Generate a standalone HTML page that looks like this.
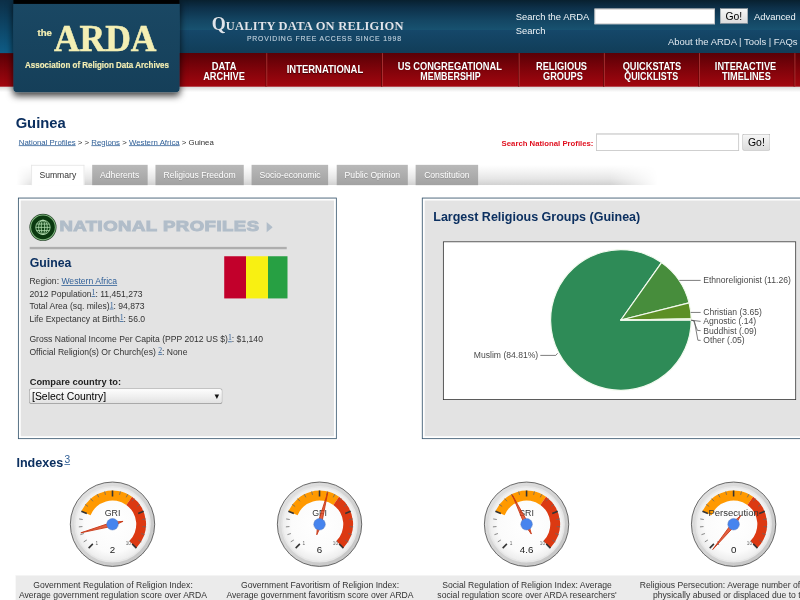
<!DOCTYPE html>
<html lang="en"><head><meta charset="utf-8"><title>Guinea | National Profiles | The ARDA</title>
<style>
html,body{margin:0;padding:0;background:#fff;}
body{width:800px;height:600px;overflow:hidden;position:relative;font-family:"Liberation Sans",Arial,sans-serif;}
#p{position:absolute;left:0;top:0;width:1024px;height:768px;transform:scale(.78125);transform-origin:0 0;overflow:hidden;font-size:11px;color:#333;background:#fff;}
.t{position:absolute;white-space:nowrap;line-height:1;transform-origin:0 50%;}
.a{position:absolute;}
a{color:#2f5f97;text-decoration:underline;}
sup.s{font-size:10px;line-height:0;vertical-align:2.2px;font-family:"Liberation Serif",serif;}
.hdr{left:0;top:0;width:1024px;height:110.5px;background:linear-gradient(#08202f 0,#0d3049 10px,#144663 26px,#185270 38px,#15486a 38px,#113d58 68px,#5a0006 68px,#7e030a 88px,#a2060f 110.5px);}
.hl{left:0;top:0;width:17px;height:68px;background:linear-gradient(#0c2f47,#0e5c86);}
.navsh{left:0;top:110.5px;width:1024px;height:7px;background:linear-gradient(rgba(0,0,0,.14),rgba(0,0,0,0));}
.logo{left:16.6px;top:0;width:213.8px;height:118px;background:linear-gradient(#1a4864,#153f59);border-radius:0 0 5px 5px;box-shadow:0 4px 9px rgba(0,0,0,.75);}
.logo i{position:absolute;left:0;top:0;width:100%;height:4.5px;background:#000;}
.dv{top:68px;width:1px;height:42.5px;background:#b23a3a;box-shadow:-1px 0 0 #5c0707;}
.n{position:absolute;white-space:nowrap;line-height:1;color:#fff;font-weight:700;transform-origin:0 50%;text-shadow:0 1px 1px rgba(0,0,0,.55);}
input.tx{position:absolute;box-sizing:border-box;border:1px solid #c2c2c2;border-top-color:#a9a9a9;background:#fff;margin:0;padding:1px;font-size:13.33px;}
.btn{position:absolute;box-sizing:border-box;border:1px solid #b4b4b4;border-bottom-color:#9c9c9c;border-radius:2.5px;background:linear-gradient(#f7f7f7,#dcdcdc);font-size:13.33px;color:#000;text-align:center;line-height:20px;font-family:"Liberation Sans",Arial,sans-serif;padding:0;margin:0;}
.tabbar{left:20.5px;top:211px;width:821px;height:25.6px;background:linear-gradient(#fff 0,#f5f5f5 30%,#e6e6e6 68%,#d1d1d1 100%);-webkit-mask-image:linear-gradient(to right,rgba(0,0,0,0) 0,#000 3.5%,#000 92.5%,rgba(0,0,0,0) 100%);mask-image:linear-gradient(to right,rgba(0,0,0,0) 0,#000 3.5%,#000 92.5%,rgba(0,0,0,0) 100%);}
.tab{position:absolute;top:211px;height:25.5px;box-sizing:border-box;background:linear-gradient(#b9b9b9,#a2a2a2);color:#fff;font-size:11px;line-height:27.6px;text-align:center;text-shadow:0 1px 0 rgba(0,0,0,.15);white-space:nowrap;}
.tab.on{background:#fff;color:#333;text-shadow:none;border:1px solid #e3e3e3;border-bottom:none;line-height:25.6px;}
.panel{position:absolute;box-sizing:border-box;border:1.28px solid #36566f;background:#e3e3e3;box-shadow:inset 0 0 0 2.56px #fff;}
.cap{position:absolute;white-space:nowrap;text-align:center;font-size:11px;line-height:13.6px;color:#333;}
</style></head>
<body><div id="p">
<div class="a hdr"></div><div class="a hl"></div><div class="a navsh"></div>
<div class="a dv" style="left:341.0px"></div>
<div class="a dv" style="left:488.8px"></div>
<div class="a dv" style="left:664.1px"></div>
<div class="a dv" style="left:772.6px"></div>
<div class="a dv" style="left:894.5px"></div>
<div class="a dv" style="left:1017.2px"></div>
<span class="n" style="left:271.36px;top:77.57px;font-size:13px;transform:scaleX(0.9251)">DATA</span>
<span class="n" style="left:260.48px;top:91.40px;font-size:13px;transform:scaleX(0.9134)">ARCHIVE</span>
<span class="n" style="left:366.72px;top:83.20px;font-size:13px;transform:scaleX(0.9308)">INTERNATIONAL</span>
<span class="n" style="left:508.93px;top:77.57px;font-size:13px;transform:scaleX(0.9166)">US CONGREGATIONAL</span>
<span class="n" style="left:537.60px;top:91.40px;font-size:13px;transform:scaleX(0.8773)">MEMBERSHIP</span>
<span class="n" style="left:685.76px;top:77.57px;font-size:13px;transform:scaleX(0.9147)">RELIGIOUS</span>
<span class="n" style="left:694.72px;top:91.40px;font-size:13px;transform:scaleX(0.9065)">GROUPS</span>
<span class="n" style="left:796.67px;top:77.57px;font-size:13px;transform:scaleX(0.9084)">QUICKSTATS</span>
<span class="n" style="left:799.36px;top:91.40px;font-size:13px;transform:scaleX(0.8764)">QUICKLISTS</span>
<span class="n" style="left:915.33px;top:77.57px;font-size:13px;transform:scaleX(0.9053)">INTERACTIVE</span>
<span class="n" style="left:924.29px;top:91.40px;font-size:13px;transform:scaleX(0.9046)">TIMELINES</span>
<div class="a logo"><i></i></div>
<span class="t" style="left:48.38px;top:35.54px;font-size:12px;color:#f4efb4;font-weight:700;transform:scaleX(1.0239);-webkit-text-stroke:.3px #f4efb4;">the</span>
<span class="t" style="left:69.38px;top:25.34px;font-size:48px;color:#f4efb4;font-weight:700;font-family:'Liberation Serif','Times New Roman',serif;transform:scaleX(0.9471);-webkit-text-stroke:.7px #f4efb4;">ARDA</span>
<span class="t" style="left:32.38px;top:77.60px;font-size:11px;color:#f4efb4;font-weight:700;transform:scaleX(0.9297);-webkit-text-stroke:.2px #f4efb4;">Association of Religion Data Archives</span>
<span class="t" id="qual" style="left:271.9px;top:19.3px;font-size:16px;line-height:23px;font-weight:700;font-family:'Liberation Serif','Times New Roman',serif;color:#dfe5ec;letter-spacing:.27px;text-shadow:0 1px 1px rgba(0,0,0,.4)"><span style="font-size:23px;margin-left:-1px">Q</span>UALITY DATA ON RELIGION</span>
<span class="t" style="left:315.84px;top:44.78px;font-size:10px;color:#bccddA;letter-spacing:1.2px;transform:scaleX(0.8785);-webkit-text-stroke:.2px #bccdda;">PROVIDING FREE ACCESS SINCE 1998</span>
<span class="t" style="left:660.10px;top:16.21px;font-size:12px;color:#f2f6f9;">Search the ARDA</span>
<input class="tx" type="text" style="left:761.0px;top:10.5px;width:154.1px;height:20.9px">
<div class="btn" style="left:920.8px;top:10.2px;width:36.9px;height:21.2px;line-height:21.8px">Go!</div>
<span class="t" style="left:965.25px;top:16.34px;font-size:12px;color:#f2f6f9;">Advanced</span>
<span class="t" style="left:660.10px;top:34.00px;font-size:12px;color:#f2f6f9;">Search</span>
<span class="t" style="left:855.04px;top:46.67px;font-size:12px;color:#e1e9ef;transform:scaleX(1.0109);">About the ARDA | Tools | FAQs</span>
<span class="t" style="left:20.48px;top:147.76px;font-size:19px;color:#0c3060;font-weight:700;transform:scaleX(0.9957);">Guinea</span>
<span class="t" style="left:24.32px;top:176.62px;font-size:10px;color:#333;transform:scaleX(1.0008);"><a>National Profiles</a> &gt; &gt; <a>Regions</a> &gt; <a>Western Africa</a> &gt; Guinea</span>
<span class="t" style="left:641.60px;top:178.74px;font-size:10px;color:#e0101f;font-weight:700;transform:scaleX(0.9937);">Search National Profiles:</span>
<input class="tx" type="text" style="left:763.0px;top:171.4px;width:183.4px;height:21.6px">
<div class="btn" style="left:950.1px;top:171.0px;width:36.2px;height:22.3px;line-height:22.7px">Go!</div>
<div class="a tabbar"></div>
<div class="tab on" style="left:40.0px;width:68.0px">Summary</div>
<div class="tab" style="left:117.6px;width:71.2px">Adherents</div>
<div class="tab" style="left:198.8px;width:113.2px">Religious Freedom</div>
<div class="tab" style="left:322.4px;width:97.9px">Socio-economic</div>
<div class="tab" style="left:431.2px;width:90.8px">Public Opinion</div>
<div class="tab" style="left:532.0px;width:79.9px">Constitution</div>
<div class="panel" style="left:23.0px;top:253.4px;width:408.3px;height:308.5px"></div>
<svg class="a" style="left:36.53px;top:272.94px" width="36" height="36" viewBox="-18 -18 36 36">
<circle r="17.3" fill="#1b3a1e"/><circle r="16.5" fill="#82b880"/><circle r="15.1" fill="#0b3a10"/>
<circle r="9.2" fill="#0e4214"/>
<g fill="none" stroke="#b4dfb2" stroke-width="1.05"><circle r="9.2"/><ellipse rx="2.2" ry="9.2"/><ellipse rx="5.6" ry="9.2"/><path d="M-9.2 0H9.2M-8.2-4.2H8.2M-8.2 4.2H8.2"/></g></svg>
<span class="t" style="left:76.29px;top:280.20px;font-size:19.5px;color:#b1bdc9;font-weight:700;letter-spacing:0.5px;transform:scaleX(1.2181);-webkit-text-stroke:1.3px #b1bdc9;">NATIONAL PROFILES</span>
<svg class="a" style="left:340.7px;top:284.2px" width="8.2" height="13.6" viewBox="0 0 6 10"><path d="M0 0L6 5L0 10Z" fill="#b1bdc9"/></svg>
<div class="a" style="left:37.6px;top:316.35px;width:329.1px;height:2.4px;background:#aeaeae"></div>
<span class="t" style="left:37.63px;top:328.98px;font-size:16px;color:#0c3060;font-weight:700;transform:scaleX(0.9818);">Guinea</span>
<span class="t" style="left:37.63px;top:354.85px;font-size:11px;color:#333;">Region: <a>Western Africa</a></span>
<span class="t" style="left:37.63px;top:370.72px;font-size:11px;color:#333;">2012 Population<sup class="s"><a>1</a></sup>: 11,451,273</span>
<span class="t" style="left:37.63px;top:386.72px;font-size:11px;color:#333;">Total Area (sq. miles)<sup class="s"><a>1</a></sup>: 94,873</span>
<span class="t" style="left:37.63px;top:402.72px;font-size:11px;color:#333;">Life Expectancy at Birth<sup class="s"><a>1</a></sup>: 56.0</span>
<span class="t" style="left:37.63px;top:429.22px;font-size:11px;color:#333;">Gross National Income Per Capita (PPP 2012 US $)<sup class="s"><a>1</a></sup>: $1,140</span>
<span class="t" style="left:37.63px;top:444.70px;font-size:11px;color:#333;">Official Religion(s) Or Church(es) <sup class="s"><a>2</a></sup>: None</span>
<div class="a" style="left:286.8px;top:327.7px;width:81.3px;height:53.9px;background:linear-gradient(to right,#c2002b 0,#c2002b 27.8px,#f8f012 27.8px,#f8f012 55.5px,#27a043 55.5px)"></div>
<span class="t" style="left:37.63px;top:483.41px;font-size:12px;color:#222;font-weight:700;transform:scaleX(0.9903);">Compare country to:</span>
<div class="a" style="left:37.2px;top:497.2px;width:247.8px;height:19.7px;box-sizing:border-box;border:1px solid #a9a9a9;border-bottom-color:#8f8f8f;border-radius:3.5px;background:linear-gradient(#fdfdfd,#f0f0f0 50%,#e2e2e2);"></div>
<span class="t" style="left:41.47px;top:501.10px;font-size:13.33px;color:#000;transform:scaleX(0.9988);">[Select Country]</span>
<span class="t" style="left:272.51px;top:502.51px;font-size:10px;color:#111;">▼</span>
<div class="panel" style="left:540.2px;top:253.4px;width:520px;height:308.5px"></div>
<span class="t" style="left:554.56px;top:269.66px;font-size:16px;color:#0c3060;font-weight:700;">Largest Religious Groups (Guinea)</span>
<div class="a" style="left:567.0px;top:308.5px;width:451.8px;height:203.5px;box-sizing:border-box;border:1.28px solid #2e2e2e;background:#fff"></div>
<svg class="a" style="left:0;top:0;overflow:visible" width="1024" height="768">
<path d="M794.75 409.60L884.74 409.60A89.98 89.98 0 1 1 846.77 336.18Z" fill="#2e8b57" stroke="#f3faef" stroke-width="1.5" stroke-linejoin="round"/>
<path d="M794.75 409.60L846.77 336.18A89.98 89.98 0 0 1 882.01 387.61Z" fill="#478d3c" stroke="#f3faef" stroke-width="1.5" stroke-linejoin="round"/>
<path d="M794.75 409.60L882.01 387.61A89.98 89.98 0 0 1 884.72 408.02Z" fill="#5c8f25" stroke="#f3faef" stroke-width="1.5" stroke-linejoin="round"/>
<path d="M794.75 409.60L884.72 408.02A89.98 89.98 0 0 1 884.73 408.81Z" fill="#7a9a20" stroke="#f3faef" stroke-width="1.5" stroke-linejoin="round"/>
<path d="M794.75 409.60L884.73 408.81A89.98 89.98 0 0 1 884.74 409.32Z" fill="#8aa020" stroke="#f3faef" stroke-width="1.5" stroke-linejoin="round"/>
<path d="M794.75 409.60L884.74 409.32A89.98 89.98 0 0 1 884.74 409.60Z" fill="#9aa520" stroke="#f3faef" stroke-width="1.5" stroke-linejoin="round"/>
<g fill="none" stroke="#5a5a5a" stroke-width="1">
<path d="M869.6 358.9L896.8 358.9"/>
<path d="M884.0 399.9L896.8 399.9"/>
<path d="M884.5 409.9L887.0 410.1L896.8 411.4"/>
<path d="M885.0 410.0L887.8 410.4L892.7 422.9L896.8 423.2"/>
<path d="M885.5 410.1L888.8 410.8L893.3 435.5L896.8 435.7"/>
<path d="M691.6 454.9L711.4 454.9L713.7 452.2"/>
</g>
<text x="900.1" y="362.4" font-size="11" fill="#4a4a4a" text-anchor="start" font-family="Liberation Sans,Arial,sans-serif">Ethnoreligionist (11.26)</text>
<text x="900.1" y="403.3" font-size="11" fill="#4a4a4a" text-anchor="start" font-family="Liberation Sans,Arial,sans-serif">Christian (3.65)</text>
<text x="900.1" y="415.1" font-size="11" fill="#4a4a4a" text-anchor="start" font-family="Liberation Sans,Arial,sans-serif">Agnostic (.14)</text>
<text x="900.1" y="426.9" font-size="11" fill="#4a4a4a" text-anchor="start" font-family="Liberation Sans,Arial,sans-serif">Buddhist (.09)</text>
<text x="900.1" y="439.4" font-size="11" fill="#4a4a4a" text-anchor="start" font-family="Liberation Sans,Arial,sans-serif">Other (.05)</text>
<text x="688.9" y="458.7" font-size="11" fill="#4a4a4a" text-anchor="end" font-family="Liberation Sans,Arial,sans-serif">Muslim (84.81%)</text>
</svg>
<span class="t" style="left:21.12px;top:584.18px;font-size:16.5px;color:#0c3060;font-weight:700;transform:scaleX(0.9748);">Indexes</span>
<span class="t" style="left:82.43px;top:581.76px;font-size:13px;color:#2f5f97;text-decoration:underline;">3</span>
<div class="a" style="left:19.8px;top:735.5px;width:1100px;height:60px;background:#ebebeb;border-top:1px solid #f6f6f6"></div>
<svg class="a" style="left:84.26px;top:611.42px" width="120" height="120" viewBox="-60 -60 120 120">
<defs><radialGradient id="gf0" cx="50%" cy="50%" r="50%"><stop offset="0" stop-color="#ffffff"/><stop offset="0.75" stop-color="#fbfbfb"/><stop offset="1" stop-color="#ececec"/></radialGradient><linearGradient id="gr0" x1="0" y1="0" x2="1" y2="1"><stop offset="0" stop-color="#e4e4e4"/><stop offset="1" stop-color="#c2c2c2"/></linearGradient></defs>
<circle r="54" fill="url(#gr0)" stroke="#444444" stroke-width="1"/>
<circle r="48" fill="url(#gf0)" stroke="#e6e6e6" stroke-width="2"/>
<path d="M-39.73 -16.46A43.0 43.0 0 0 1 24.97 -35.01L17.65 -24.75A30.4 30.4 0 0 0 -28.09 -11.63Z" fill="#ff9900"/>
<path d="M24.97 -35.01A43.0 43.0 0 0 1 30.41 30.41L21.50 21.50A30.4 30.4 0 0 0 17.65 -24.75Z" fill="#dc3912"/>
<path d="M-30.55 30.55L-25.17 25.17" stroke="#333333" stroke-width="2"/>
<path d="M-36.83 22.57L-32.91 20.17" stroke="#666666" stroke-width="1"/>
<path d="M-41.09 13.35L-36.71 11.93" stroke="#666666" stroke-width="1"/>
<path d="M-43.07 3.39L-38.48 3.03" stroke="#666666" stroke-width="1"/>
<path d="M-42.67 -6.76L-38.12 -6.04" stroke="#666666" stroke-width="1"/>
<path d="M-39.91 -16.53L-32.89 -13.62" stroke="#333333" stroke-width="2"/>
<path d="M-34.95 -25.39L-31.23 -22.69" stroke="#666666" stroke-width="1"/>
<path d="M-28.06 -32.85L-25.07 -29.35" stroke="#666666" stroke-width="1"/>
<path d="M-19.61 -38.49L-17.52 -34.39" stroke="#666666" stroke-width="1"/>
<path d="M-10.08 -42.01L-9.01 -37.53" stroke="#666666" stroke-width="1"/>
<path d="M0.00 -43.20L0.00 -35.60" stroke="#333333" stroke-width="2"/>
<path d="M10.08 -42.01L9.01 -37.53" stroke="#666666" stroke-width="1"/>
<path d="M19.61 -38.49L17.52 -34.39" stroke="#666666" stroke-width="1"/>
<path d="M28.06 -32.85L25.07 -29.35" stroke="#666666" stroke-width="1"/>
<path d="M34.95 -25.39L31.23 -22.69" stroke="#666666" stroke-width="1"/>
<path d="M39.91 -16.53L32.89 -13.62" stroke="#333333" stroke-width="2"/>
<path d="M42.67 -6.76L38.12 -6.04" stroke="#666666" stroke-width="1"/>
<path d="M43.07 3.39L38.48 3.03" stroke="#666666" stroke-width="1"/>
<path d="M41.09 13.35L36.71 11.93" stroke="#666666" stroke-width="1"/>
<path d="M36.83 22.57L32.91 20.17" stroke="#666666" stroke-width="1"/>
<path d="M30.55 30.55L25.17 25.17" stroke="#333333" stroke-width="2"/>
<text x="0" y="-10.3" text-anchor="middle" font-size="11.3" fill="#333333" font-family="Liberation Sans,Arial,sans-serif">GRI</text>
<text x="-20" y="26.5" text-anchor="middle" font-size="6" fill="#666" font-family="Liberation Sans,Arial,sans-serif">1</text>
<text x="20.3" y="26.5" text-anchor="middle" font-size="6" fill="#666" font-family="Liberation Sans,Arial,sans-serif">10</text>
<text x="0" y="37.3" text-anchor="middle" font-size="12.5" fill="#1a1a1a" font-family="Liberation Sans,Arial,sans-serif">2</text>
<path d="M0 -42L2.5 0L0 14L-2.5 0Z" fill="#dc3912" fill-opacity="0.8" stroke="#c63310" stroke-width="1" stroke-linejoin="round" transform="rotate(-105.2)"/>
<circle r="7.4" fill="#4684ee" stroke="#5577bb" stroke-width="0.6"/>
</svg>
<svg class="a" style="left:349.22px;top:611.42px" width="120" height="120" viewBox="-60 -60 120 120">
<defs><radialGradient id="gf1" cx="50%" cy="50%" r="50%"><stop offset="0" stop-color="#ffffff"/><stop offset="0.75" stop-color="#fbfbfb"/><stop offset="1" stop-color="#ececec"/></radialGradient><linearGradient id="gr1" x1="0" y1="0" x2="1" y2="1"><stop offset="0" stop-color="#e4e4e4"/><stop offset="1" stop-color="#c2c2c2"/></linearGradient></defs>
<circle r="54" fill="url(#gr1)" stroke="#444444" stroke-width="1"/>
<circle r="48" fill="url(#gf1)" stroke="#e6e6e6" stroke-width="2"/>
<path d="M-39.73 -16.46A43.0 43.0 0 0 1 24.97 -35.01L17.65 -24.75A30.4 30.4 0 0 0 -28.09 -11.63Z" fill="#ff9900"/>
<path d="M24.97 -35.01A43.0 43.0 0 0 1 30.41 30.41L21.50 21.50A30.4 30.4 0 0 0 17.65 -24.75Z" fill="#dc3912"/>
<path d="M-30.55 30.55L-25.17 25.17" stroke="#333333" stroke-width="2"/>
<path d="M-36.83 22.57L-32.91 20.17" stroke="#666666" stroke-width="1"/>
<path d="M-41.09 13.35L-36.71 11.93" stroke="#666666" stroke-width="1"/>
<path d="M-43.07 3.39L-38.48 3.03" stroke="#666666" stroke-width="1"/>
<path d="M-42.67 -6.76L-38.12 -6.04" stroke="#666666" stroke-width="1"/>
<path d="M-39.91 -16.53L-32.89 -13.62" stroke="#333333" stroke-width="2"/>
<path d="M-34.95 -25.39L-31.23 -22.69" stroke="#666666" stroke-width="1"/>
<path d="M-28.06 -32.85L-25.07 -29.35" stroke="#666666" stroke-width="1"/>
<path d="M-19.61 -38.49L-17.52 -34.39" stroke="#666666" stroke-width="1"/>
<path d="M-10.08 -42.01L-9.01 -37.53" stroke="#666666" stroke-width="1"/>
<path d="M0.00 -43.20L0.00 -35.60" stroke="#333333" stroke-width="2"/>
<path d="M10.08 -42.01L9.01 -37.53" stroke="#666666" stroke-width="1"/>
<path d="M19.61 -38.49L17.52 -34.39" stroke="#666666" stroke-width="1"/>
<path d="M28.06 -32.85L25.07 -29.35" stroke="#666666" stroke-width="1"/>
<path d="M34.95 -25.39L31.23 -22.69" stroke="#666666" stroke-width="1"/>
<path d="M39.91 -16.53L32.89 -13.62" stroke="#333333" stroke-width="2"/>
<path d="M42.67 -6.76L38.12 -6.04" stroke="#666666" stroke-width="1"/>
<path d="M43.07 3.39L38.48 3.03" stroke="#666666" stroke-width="1"/>
<path d="M41.09 13.35L36.71 11.93" stroke="#666666" stroke-width="1"/>
<path d="M36.83 22.57L32.91 20.17" stroke="#666666" stroke-width="1"/>
<path d="M30.55 30.55L25.17 25.17" stroke="#333333" stroke-width="2"/>
<text x="0" y="-10.3" text-anchor="middle" font-size="11.3" fill="#333333" font-family="Liberation Sans,Arial,sans-serif">GFI</text>
<text x="-20" y="26.5" text-anchor="middle" font-size="6" fill="#666" font-family="Liberation Sans,Arial,sans-serif">1</text>
<text x="20.3" y="26.5" text-anchor="middle" font-size="6" fill="#666" font-family="Liberation Sans,Arial,sans-serif">10</text>
<text x="0" y="37.3" text-anchor="middle" font-size="12.5" fill="#1a1a1a" font-family="Liberation Sans,Arial,sans-serif">6</text>
<path d="M0 -42L2.5 0L0 14L-2.5 0Z" fill="#dc3912" fill-opacity="0.8" stroke="#c63310" stroke-width="1" stroke-linejoin="round" transform="rotate(14.5)"/>
<circle r="7.4" fill="#4684ee" stroke="#5577bb" stroke-width="0.6"/>
</svg>
<svg class="a" style="left:614.18px;top:611.42px" width="120" height="120" viewBox="-60 -60 120 120">
<defs><radialGradient id="gf2" cx="50%" cy="50%" r="50%"><stop offset="0" stop-color="#ffffff"/><stop offset="0.75" stop-color="#fbfbfb"/><stop offset="1" stop-color="#ececec"/></radialGradient><linearGradient id="gr2" x1="0" y1="0" x2="1" y2="1"><stop offset="0" stop-color="#e4e4e4"/><stop offset="1" stop-color="#c2c2c2"/></linearGradient></defs>
<circle r="54" fill="url(#gr2)" stroke="#444444" stroke-width="1"/>
<circle r="48" fill="url(#gf2)" stroke="#e6e6e6" stroke-width="2"/>
<path d="M-39.73 -16.46A43.0 43.0 0 0 1 24.97 -35.01L17.65 -24.75A30.4 30.4 0 0 0 -28.09 -11.63Z" fill="#ff9900"/>
<path d="M24.97 -35.01A43.0 43.0 0 0 1 30.41 30.41L21.50 21.50A30.4 30.4 0 0 0 17.65 -24.75Z" fill="#dc3912"/>
<path d="M-30.55 30.55L-25.17 25.17" stroke="#333333" stroke-width="2"/>
<path d="M-36.83 22.57L-32.91 20.17" stroke="#666666" stroke-width="1"/>
<path d="M-41.09 13.35L-36.71 11.93" stroke="#666666" stroke-width="1"/>
<path d="M-43.07 3.39L-38.48 3.03" stroke="#666666" stroke-width="1"/>
<path d="M-42.67 -6.76L-38.12 -6.04" stroke="#666666" stroke-width="1"/>
<path d="M-39.91 -16.53L-32.89 -13.62" stroke="#333333" stroke-width="2"/>
<path d="M-34.95 -25.39L-31.23 -22.69" stroke="#666666" stroke-width="1"/>
<path d="M-28.06 -32.85L-25.07 -29.35" stroke="#666666" stroke-width="1"/>
<path d="M-19.61 -38.49L-17.52 -34.39" stroke="#666666" stroke-width="1"/>
<path d="M-10.08 -42.01L-9.01 -37.53" stroke="#666666" stroke-width="1"/>
<path d="M0.00 -43.20L0.00 -35.60" stroke="#333333" stroke-width="2"/>
<path d="M10.08 -42.01L9.01 -37.53" stroke="#666666" stroke-width="1"/>
<path d="M19.61 -38.49L17.52 -34.39" stroke="#666666" stroke-width="1"/>
<path d="M28.06 -32.85L25.07 -29.35" stroke="#666666" stroke-width="1"/>
<path d="M34.95 -25.39L31.23 -22.69" stroke="#666666" stroke-width="1"/>
<path d="M39.91 -16.53L32.89 -13.62" stroke="#333333" stroke-width="2"/>
<path d="M42.67 -6.76L38.12 -6.04" stroke="#666666" stroke-width="1"/>
<path d="M43.07 3.39L38.48 3.03" stroke="#666666" stroke-width="1"/>
<path d="M41.09 13.35L36.71 11.93" stroke="#666666" stroke-width="1"/>
<path d="M36.83 22.57L32.91 20.17" stroke="#666666" stroke-width="1"/>
<path d="M30.55 30.55L25.17 25.17" stroke="#333333" stroke-width="2"/>
<text x="0" y="-10.3" text-anchor="middle" font-size="11.3" fill="#333333" font-family="Liberation Sans,Arial,sans-serif">SRI</text>
<text x="-20" y="26.5" text-anchor="middle" font-size="6" fill="#666" font-family="Liberation Sans,Arial,sans-serif">1</text>
<text x="20.3" y="26.5" text-anchor="middle" font-size="6" fill="#666" font-family="Liberation Sans,Arial,sans-serif">10</text>
<text x="0" y="37.3" text-anchor="middle" font-size="12.5" fill="#1a1a1a" font-family="Liberation Sans,Arial,sans-serif">4.6</text>
<path d="M0 -42L2.5 0L0 14L-2.5 0Z" fill="#dc3912" fill-opacity="0.8" stroke="#c63310" stroke-width="1" stroke-linejoin="round" transform="rotate(-26.0)"/>
<circle r="7.4" fill="#4684ee" stroke="#5577bb" stroke-width="0.6"/>
</svg>
<svg class="a" style="left:879.14px;top:611.42px" width="120" height="120" viewBox="-60 -60 120 120">
<defs><radialGradient id="gf3" cx="50%" cy="50%" r="50%"><stop offset="0" stop-color="#ffffff"/><stop offset="0.75" stop-color="#fbfbfb"/><stop offset="1" stop-color="#ececec"/></radialGradient><linearGradient id="gr3" x1="0" y1="0" x2="1" y2="1"><stop offset="0" stop-color="#e4e4e4"/><stop offset="1" stop-color="#c2c2c2"/></linearGradient></defs>
<circle r="54" fill="url(#gr3)" stroke="#444444" stroke-width="1"/>
<circle r="48" fill="url(#gf3)" stroke="#e6e6e6" stroke-width="2"/>
<path d="M-39.73 -16.46A43.0 43.0 0 0 1 24.97 -35.01L17.65 -24.75A30.4 30.4 0 0 0 -28.09 -11.63Z" fill="#ff9900"/>
<path d="M24.97 -35.01A43.0 43.0 0 0 1 30.41 30.41L21.50 21.50A30.4 30.4 0 0 0 17.65 -24.75Z" fill="#dc3912"/>
<path d="M-30.55 30.55L-25.17 25.17" stroke="#333333" stroke-width="2"/>
<path d="M-36.83 22.57L-32.91 20.17" stroke="#666666" stroke-width="1"/>
<path d="M-41.09 13.35L-36.71 11.93" stroke="#666666" stroke-width="1"/>
<path d="M-43.07 3.39L-38.48 3.03" stroke="#666666" stroke-width="1"/>
<path d="M-42.67 -6.76L-38.12 -6.04" stroke="#666666" stroke-width="1"/>
<path d="M-39.91 -16.53L-32.89 -13.62" stroke="#333333" stroke-width="2"/>
<path d="M-34.95 -25.39L-31.23 -22.69" stroke="#666666" stroke-width="1"/>
<path d="M-28.06 -32.85L-25.07 -29.35" stroke="#666666" stroke-width="1"/>
<path d="M-19.61 -38.49L-17.52 -34.39" stroke="#666666" stroke-width="1"/>
<path d="M-10.08 -42.01L-9.01 -37.53" stroke="#666666" stroke-width="1"/>
<path d="M0.00 -43.20L0.00 -35.60" stroke="#333333" stroke-width="2"/>
<path d="M10.08 -42.01L9.01 -37.53" stroke="#666666" stroke-width="1"/>
<path d="M19.61 -38.49L17.52 -34.39" stroke="#666666" stroke-width="1"/>
<path d="M28.06 -32.85L25.07 -29.35" stroke="#666666" stroke-width="1"/>
<path d="M34.95 -25.39L31.23 -22.69" stroke="#666666" stroke-width="1"/>
<path d="M39.91 -16.53L32.89 -13.62" stroke="#333333" stroke-width="2"/>
<path d="M42.67 -6.76L38.12 -6.04" stroke="#666666" stroke-width="1"/>
<path d="M43.07 3.39L38.48 3.03" stroke="#666666" stroke-width="1"/>
<path d="M41.09 13.35L36.71 11.93" stroke="#666666" stroke-width="1"/>
<path d="M36.83 22.57L32.91 20.17" stroke="#666666" stroke-width="1"/>
<path d="M30.55 30.55L25.17 25.17" stroke="#333333" stroke-width="2"/>
<text x="0" y="-10.3" text-anchor="middle" font-size="12.2" fill="#333333" font-family="Liberation Sans,Arial,sans-serif">Persecution</text>
<text x="-20" y="26.5" text-anchor="middle" font-size="6" fill="#666" font-family="Liberation Sans,Arial,sans-serif">1</text>
<text x="20.3" y="26.5" text-anchor="middle" font-size="6" fill="#666" font-family="Liberation Sans,Arial,sans-serif">10</text>
<text x="0" y="37.3" text-anchor="middle" font-size="12.5" fill="#1a1a1a" font-family="Liberation Sans,Arial,sans-serif">0</text>
<path d="M0 -42L2.5 0L0 14L-2.5 0Z" fill="#dc3912" fill-opacity="0.8" stroke="#c63310" stroke-width="1" stroke-linejoin="round" transform="rotate(-140.5)"/>
<circle r="7.4" fill="#4684ee" stroke="#5577bb" stroke-width="0.6"/>
</svg>
<span class="t" style="left:42.52px;top:742.69px;font-size:11px;color:#333;">Government Regulation of Religion Index:</span>
<span class="t" style="left:24.28px;top:756.13px;font-size:11px;color:#333;">Average government regulation score over ARDA</span>
<span class="t" style="left:308.42px;top:742.69px;font-size:11px;color:#333;">Government Favoritism of Religion Index:</span>
<span class="t" style="left:289.87px;top:756.13px;font-size:11px;color:#333;">Average government favoritism score over ARDA</span>
<span class="t" style="left:566.11px;top:742.69px;font-size:11px;color:#333;">Social Regulation of Religion Index: Average</span>
<span class="t" style="left:559.79px;top:756.13px;font-size:11px;color:#333;">social regulation score over ARDA researchers&#39;</span>
<span class="t" style="left:818.85px;top:742.69px;font-size:11px;color:#333;">Religious Persecution: Average number of people</span>
<span class="t" style="left:835.87px;top:756.13px;font-size:11px;color:#333;">physically abused or displaced due to their</span>
</div></body></html>
